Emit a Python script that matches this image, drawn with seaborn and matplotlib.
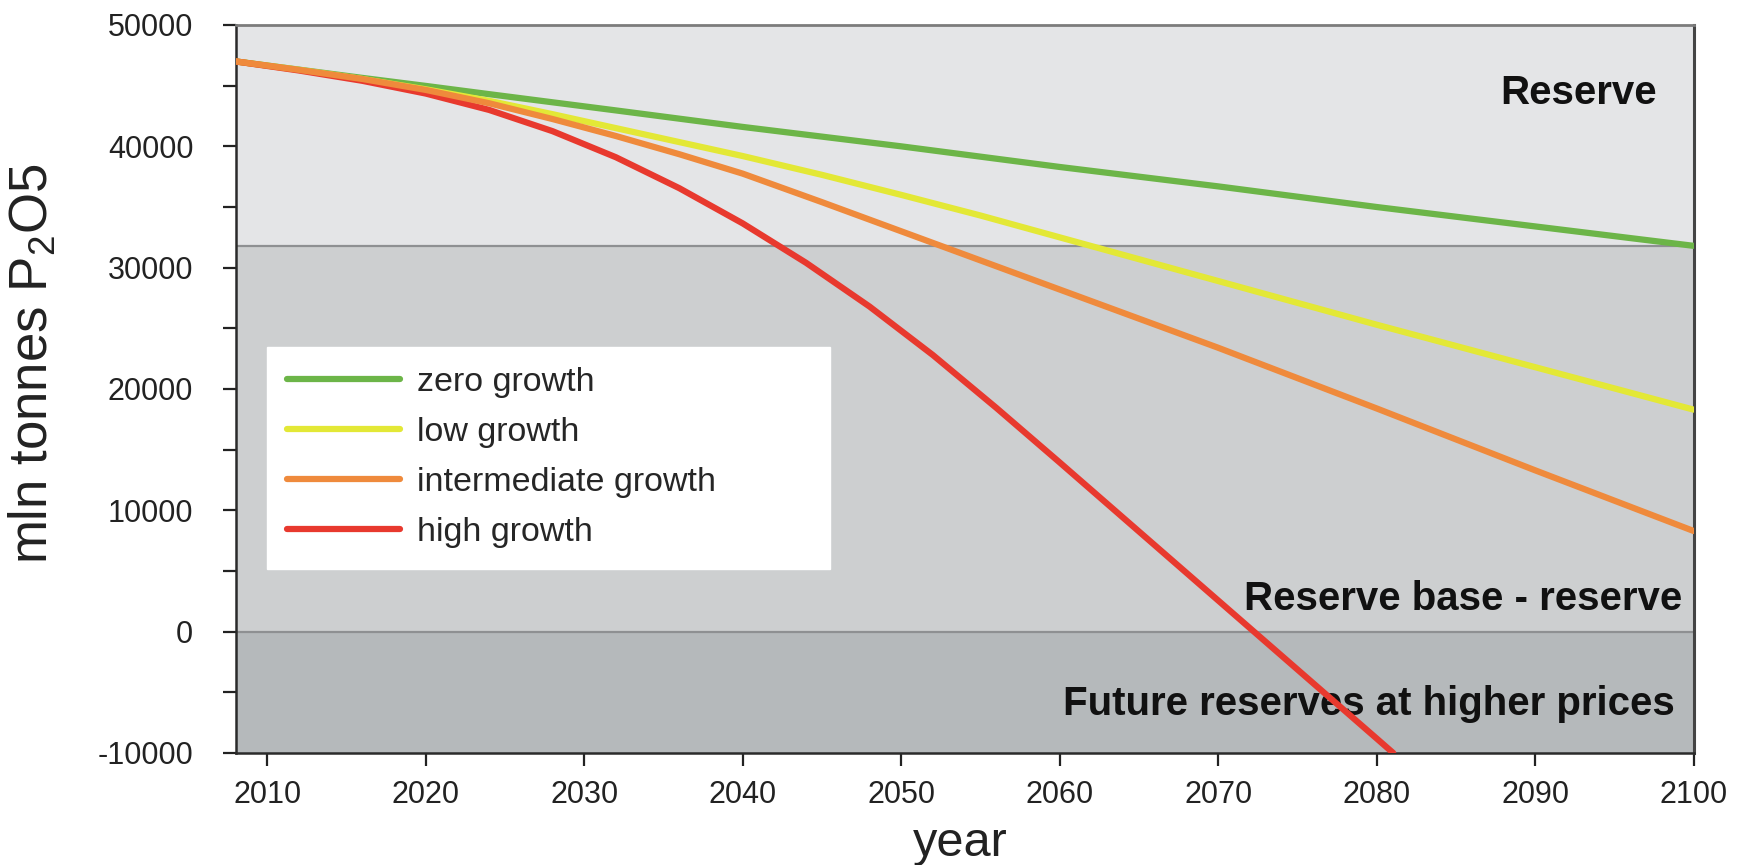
import pandas as pd
import seaborn as sns
import matplotlib.pyplot as plt
from matplotlib.ticker import MultipleLocator

sns.set_theme(style='white')
plt.rcParams['font.family'] = ['Liberation Sans', 'DejaVu Sans']
plt.rcParams['mathtext.default'] = 'regular'
plt.rcParams['axes.unicode_minus'] = False

# 读图得到的数据 (mln tonnes P2O5)
years = [2008, 2012, 2016, 2020, 2024, 2028, 2032, 2036, 2040, 2045, 2050, 2055, 2060, 2070, 2080, 2090, 2100]
zero_growth = [47000, 46320, 45640, 44980, 44300, 43630, 42960, 42280, 41600, 40800, 40000, 39150, 38300,
               36700, 35000, 33400, 31800]
low_growth = [47000, 46300, 45550, 44700, 43750, 42650, 41500, 40350, 39200, 37650, 36000, 34300, 32500,
              28900, 25300, 21800, 18300]
intermediate_growth = [47000, 46300, 45550, 44650, 43550, 42250, 40850, 39350, 37750, 35400, 33000, 30600,
                       28200, 23400, 18400, 13300, 8300]
years_high = [2008, 2012, 2016, 2020, 2024, 2028, 2032, 2036, 2040, 2044, 2048, 2052, 2056, 2060, 2064,
              2068, 2072, 2076, 2080, 2081.05]
high_growth = [47000, 46250, 45400, 44350, 43000, 41250, 39100, 36550, 33650, 30400, 26800, 22800, 18450,
               13950, 9400, 4850, 300, -4250, -8800, -10000]

scenarios = ['zero growth', 'low growth', 'intermediate growth', 'high growth']
colors = ['#6cb548', '#e3e836', '#ef8a3c', '#e8392e']

reserve_limit = 31800   # 储量 / 储量基础 分界
region_labels = ['Reserve', 'Reserve base - reserve', 'Future reserves at higher prices']
region_x = [2097.7, 2099.3, 2098.8]
region_y = [44400, 2700, -6000]

df = pd.concat([
    pd.DataFrame({'year': years, 'value': zero_growth, 'scenario': 'zero growth'}),
    pd.DataFrame({'year': years, 'value': low_growth, 'scenario': 'low growth'}),
    pd.DataFrame({'year': years, 'value': intermediate_growth, 'scenario': 'intermediate growth'}),
    pd.DataFrame({'year': years_high, 'value': high_growth, 'scenario': 'high growth'}),
], ignore_index=True)

fig = plt.figure(figsize=(17.45, 8.65), dpi=100)
ax = fig.add_axes([0.135, 0.1295, 0.8355, 0.8416])

# 背景分区
ax.axhspan(reserve_limit, 50000, color='#e4e5e7', zorder=0)
ax.axhspan(0, reserve_limit, color='#cdcfd0', zorder=0)
ax.axhspan(-10000, 0, color='#b5b9bb', zorder=0)
ax.axhline(reserve_limit, color='#8e9092', lw=1.6, zorder=1)
ax.axhline(0, color='#8e9092', lw=1.6, zorder=1)

draw_order = ['zero growth', 'low growth', 'high growth', 'intermediate growth']
sns.lineplot(data=df, x='year', y='value', hue='scenario', hue_order=draw_order,
             palette=dict(zip(scenarios, colors)), estimator=None, sort=False,
             lw=4.5, ax=ax, zorder=3)

handles, labels = ax.get_legend_handles_labels()
hmap = dict(zip(labels, handles))
leg = ax.legend([hmap[s] for s in scenarios], scenarios, loc='upper left',
                bbox_to_anchor=(0.0215, 0.358, 0.386, 0.2), mode='expand',
                borderaxespad=0, fontsize=24.5, frameon=True, fancybox=False,
                framealpha=1, edgecolor='white', facecolor='white',
                handlelength=3.3, handletextpad=0.5, labelspacing=0.56, borderpad=0.6)
for line in leg.get_lines():
    line.set_linewidth(4.5)

for txt, x, y in zip(region_labels, region_x, region_y):
    ax.text(x, y, txt, ha='right', va='center', fontsize=29, fontweight='bold',
            color='#111111', zorder=2)

ax.set_xlim(2008, 2100)
ax.set_ylim(-10000, 50000)
ax.set_xticks(range(2010, 2101, 10))
ax.yaxis.set_major_locator(MultipleLocator(10000))
ax.yaxis.set_minor_locator(MultipleLocator(5000))
ax.tick_params(axis='both', which='both', direction='out', length=9.4, width=1.6,
               color='#222222', labelsize=22, labelcolor='#222222')
ax.tick_params(axis='y', which='both', left=True, pad=21)
ax.tick_params(axis='x', bottom=True, pad=10)

ax.set_xlabel('year', fontsize=35, color='#222222')
ax.xaxis.set_label_coords(0.497, -0.125)
ax.xaxis.label.set_va('center')
ax.set_ylabel('mln tonnes P$_2$O5', fontsize=38, color='#222222')
ax.yaxis.set_label_coords(-0.139, 0.535)
ax.yaxis.label.set_va('center')

for side in ['left', 'bottom']:
    ax.spines[side].set_color('#2a2a2a')
    ax.spines[side].set_linewidth(1.8)
ax.spines['top'].set_color('#7c7c7c')
ax.spines['top'].set_linewidth(2)
ax.spines['right'].set_color('#444444')
ax.spines['right'].set_linewidth(2.2)

fig.savefig('out.png', dpi=100)
